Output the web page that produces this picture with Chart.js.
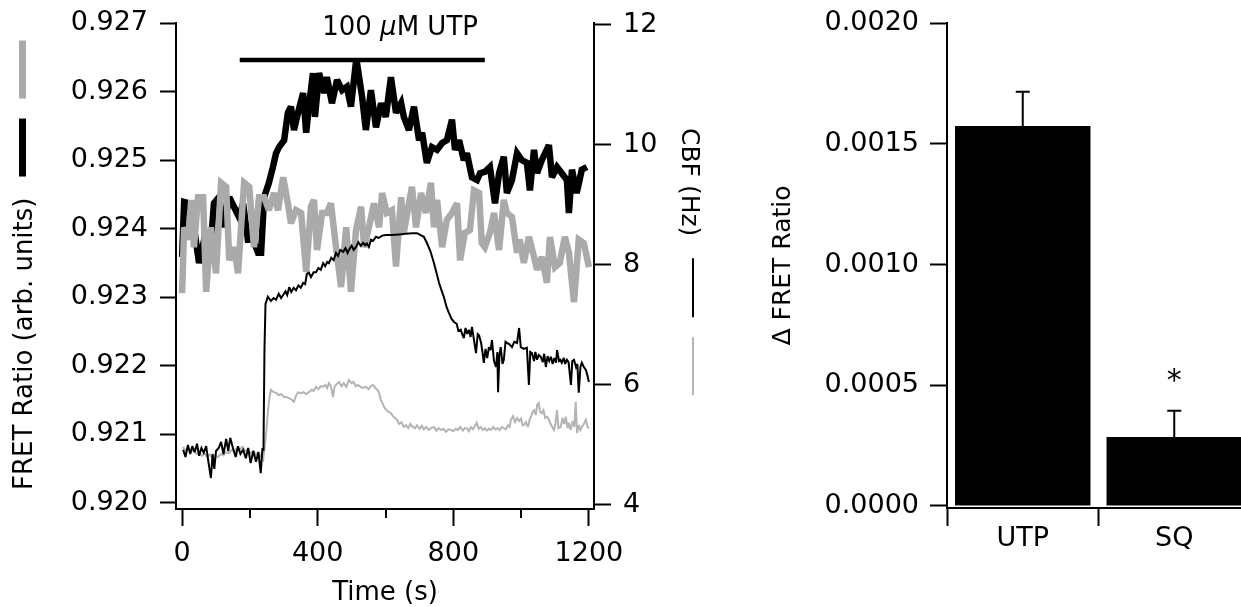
<!DOCTYPE html>
<html>
<head>
<meta charset="utf-8">
<script src="https://cdn.jsdelivr.net/npm/chart.js@4.4.1/dist/chart.umd.min.js"></script>
<style>
  html, body { margin: 0; padding: 0; background: #fff; overflow: hidden; }
  #wrap { position: relative; width: 1241px; height: 607px; overflow: hidden; background: #fff; }
  #trace { position: absolute; left: 0; top: 0; }
  #bars { position: absolute; left: 730px; top: 0; }
</style>
</head>
<body>
<div id="wrap">
  <canvas id="trace" width="720" height="607"></canvas>
  <canvas id="bars" width="530" height="607"></canvas>
</div>
<script>
// FRET ratio, thick traces (time s, ratio)
const fretBlack = [
  [0, 0.92359], [6, 0.92439], [21, 0.92437], [35, 0.92402], [50, 0.92350], [65, 0.92384],
  [85, 0.92379], [94, 0.92437], [109, 0.92446], [124, 0.92402], [139, 0.92446], [153, 0.92432],
  [168, 0.92417], [180, 0.92437], [194, 0.92384], [209, 0.92384], [224, 0.92365], [233, 0.92365],
  [242, 0.92446], [256, 0.92467], [268, 0.92490], [277, 0.92510], [286, 0.92519], [301, 0.92529],
  [312, 0.92569], [321, 0.92578], [330, 0.92544], [342, 0.92569], [357, 0.92598], [366, 0.92540],
  [374, 0.92578], [386, 0.92627], [392, 0.92563], [404, 0.92627], [419, 0.92598], [427, 0.92621],
  [442, 0.92583], [457, 0.92617], [472, 0.92602], [486, 0.92607], [498, 0.92578], [514, 0.92648],
  [531, 0.92592], [542, 0.92544], [557, 0.92602], [572, 0.92548], [587, 0.92583], [601, 0.92563],
  [616, 0.92621], [631, 0.92569], [646, 0.92583], [654, 0.92563], [669, 0.92544], [684, 0.92578],
  [699, 0.92529], [708, 0.92540], [722, 0.92496], [737, 0.92519], [752, 0.92515], [767, 0.92525],
  [781, 0.92529], [796, 0.92559], [805, 0.92515], [817, 0.92529], [831, 0.92500], [840, 0.92510],
  [855, 0.92475], [870, 0.92471], [879, 0.92481], [893, 0.92483], [908, 0.92490], [923, 0.92437],
  [935, 0.92481], [949, 0.92505], [958, 0.92452], [973, 0.92471], [988, 0.92510], [1002, 0.92500],
  [1017, 0.92496], [1026, 0.92456], [1038, 0.92515], [1047, 0.92481], [1061, 0.92500], [1082, 0.92522],
  [1091, 0.92475], [1106, 0.92490], [1120, 0.92481], [1135, 0.92471], [1141, 0.92423], [1150, 0.92486],
  [1164, 0.92452], [1179, 0.92486], [1194, 0.92490]
];
const fretGray = [
  [0, 0.92306], [6, 0.92402], [18, 0.92384], [27, 0.92442], [35, 0.92373], [47, 0.92446],
  [62, 0.92446], [71, 0.92308], [85, 0.92402], [100, 0.92335], [115, 0.92467], [130, 0.92461],
  [139, 0.92354], [153, 0.92373], [165, 0.92335], [174, 0.92402], [183, 0.92467], [198, 0.92461],
  [212, 0.92373], [227, 0.92446], [242, 0.92446], [256, 0.92427], [271, 0.92452], [283, 0.92427],
  [298, 0.92475], [312, 0.92437], [321, 0.92408], [336, 0.92427], [351, 0.92423], [366, 0.92337],
  [380, 0.92432], [389, 0.92442], [398, 0.92369], [413, 0.92423], [427, 0.92423], [439, 0.92437],
  [454, 0.92373], [469, 0.92315], [484, 0.92402], [498, 0.92308], [513, 0.92398], [528, 0.92432],
  [537, 0.92373], [551, 0.92402], [566, 0.92437], [581, 0.92402], [590, 0.92452], [604, 0.92423],
  [619, 0.92427], [631, 0.92345], [646, 0.92446], [654, 0.92394], [669, 0.92437], [678, 0.92461],
  [690, 0.92402], [705, 0.92452], [719, 0.92423], [734, 0.92467], [743, 0.92402], [752, 0.92442],
  [767, 0.92373], [781, 0.92413], [796, 0.92423], [811, 0.92437], [820, 0.92354], [834, 0.92394],
  [849, 0.92398], [861, 0.92456], [876, 0.92452], [884, 0.92379], [893, 0.92373], [908, 0.92394],
  [920, 0.92423], [935, 0.92369], [949, 0.92442], [958, 0.92423], [973, 0.92417], [988, 0.92365],
  [996, 0.92384], [1008, 0.92350], [1023, 0.92388], [1038, 0.92359], [1047, 0.92340], [1061, 0.92359],
  [1076, 0.92321], [1085, 0.92388], [1100, 0.92344], [1114, 0.92350], [1129, 0.92388], [1141, 0.92365],
  [1156, 0.92293], [1170, 0.92384], [1185, 0.92379], [1200, 0.92344]
];

// ciliary beat frequency, thin traces (time s, Hz)
const cbfBlack = [
  [3, 4.92], [10, 4.80], [17, 5.00], [24, 4.85], [30, 4.98], [37, 4.88], [44, 5.02], [50, 4.82],
  [57, 4.95], [64, 4.87], [71, 4.98], [78, 4.70], [85, 4.45], [90, 4.85], [95, 4.60], [100, 4.90],
  [108, 4.95], [115, 5.05], [122, 4.85], [130, 5.10], [136, 4.90], [142, 5.12], [150, 4.95], [158, 4.80],
  [165, 4.98], [172, 4.85], [180, 4.92], [188, 4.78], [195, 4.95], [202, 4.70], [210, 4.90], [218, 4.72],
  [225, 4.88], [232, 4.53], [237, 4.95], [240, 4.90], [243, 6.60], [246, 7.35], [253, 7.47], [262, 7.40],
  [270, 7.45], [277, 7.42], [285, 7.52], [292, 7.45], [298, 7.50], [305, 7.56], [310, 7.50], [316, 7.63],
  [322, 7.55], [329, 7.62], [336, 7.58], [343, 7.66], [350, 7.62], [357, 7.70], [363, 7.68], [368, 7.85],
  [374, 7.87], [380, 7.80], [388, 7.88], [395, 7.88], [402, 7.95], [409, 7.92], [416, 8.03], [422, 7.98],
  [428, 8.05], [433, 8.03], [440, 8.12], [447, 8.08], [454, 8.20], [460, 8.15], [467, 8.25], [475, 8.22],
  [482, 8.28], [488, 8.20], [492, 8.25], [500, 8.32], [506, 8.25], [513, 8.30], [520, 8.38], [527, 8.32],
  [534, 8.37], [540, 8.33], [545, 8.36], [551, 8.30], [557, 8.42], [563, 8.40], [572, 8.47], [580, 8.45],
  [590, 8.49], [601, 8.50], [616, 8.50], [640, 8.51], [660, 8.52], [680, 8.53], [693, 8.53], [713, 8.47],
  [722, 8.37], [733, 8.22], [743, 8.03], [750, 7.88], [758, 7.70], [765, 7.58], [772, 7.47], [780, 7.30],
  [787, 7.20], [795, 7.10], [802, 7.05], [810, 7.02], [815, 6.90], [822, 6.92], [826, 6.85], [831, 6.78],
  [836, 6.95], [841, 6.85], [846, 6.92], [851, 6.80], [855, 6.97], [861, 6.75], [867, 6.53], [872, 6.85],
  [876, 6.83], [882, 6.70], [886, 6.55], [890, 6.37], [895, 6.60], [900, 6.45], [905, 6.63], [910, 6.58],
  [914, 6.75], [920, 6.40], [926, 6.30], [930, 6.55], [932, 5.88], [936, 6.50], [940, 6.63], [945, 6.35],
  [949, 6.42], [954, 6.72], [958, 6.70], [965, 6.68], [973, 6.63], [980, 6.72], [988, 6.70], [994, 6.95],
  [999, 6.63], [1008, 6.60], [1017, 6.62], [1023, 6.00], [1027, 6.55], [1032, 6.53], [1038, 6.40], [1042, 6.55],
  [1047, 6.42], [1052, 6.50], [1058, 6.47], [1064, 6.38], [1068, 6.52], [1073, 6.30], [1078, 6.48], [1083, 6.40],
  [1088, 6.47], [1093, 6.35], [1098, 6.45], [1103, 6.37], [1106, 6.58], [1112, 6.40], [1116, 6.42], [1120, 6.37],
  [1126, 6.45], [1130, 6.35], [1135, 6.42], [1140, 6.38], [1147, 6.00], [1151, 6.40], [1156, 6.42], [1162, 6.30],
  [1166, 6.35], [1170, 5.87], [1175, 6.30], [1179, 6.37], [1185, 6.30], [1191, 6.25], [1196, 6.15], [1200, 6.05]
];
const cbfGray = [
  [3, 4.97], [10, 4.90], [18, 4.95], [26, 4.88], [34, 4.92], [42, 4.85], [50, 4.88], [58, 4.82],
  [66, 4.86], [74, 4.80], [82, 4.84], [90, 4.78], [98, 4.82], [106, 4.80], [114, 4.85], [122, 4.83],
  [130, 4.88], [138, 4.86], [146, 4.92], [154, 4.89], [162, 4.95], [170, 4.92], [178, 4.97], [186, 4.90],
  [194, 4.93], [202, 4.86], [210, 4.90], [218, 4.84], [226, 4.88], [233, 4.80], [239, 4.75], [244, 5.00],
  [248, 5.20], [253, 5.55], [258, 5.80], [262, 5.92], [270, 5.88], [277, 5.87], [285, 5.83], [292, 5.85],
  [300, 5.80], [307, 5.80], [315, 5.78], [322, 5.76], [330, 5.72], [336, 5.82], [342, 5.88], [350, 5.86],
  [358, 5.88], [366, 5.85], [374, 5.88], [382, 5.92], [388, 5.90], [395, 5.97], [402, 5.93], [409, 5.98],
  [416, 5.97], [423, 6.00], [428, 5.95], [433, 6.03], [439, 5.98], [445, 5.80], [450, 5.98], [457, 6.02],
  [463, 6.05], [470, 5.98], [477, 6.03], [484, 5.97], [492, 6.08], [500, 6.03], [506, 6.05], [512, 5.98],
  [519, 6.00], [526, 5.97], [533, 5.95], [542, 5.97], [550, 5.93], [556, 5.98], [563, 6.00], [570, 5.95],
  [576, 5.92], [581, 5.87], [586, 5.75], [591, 5.70], [596, 5.63], [603, 5.58], [610, 5.55], [616, 5.53],
  [622, 5.48], [628, 5.45], [634, 5.42], [640, 5.35], [647, 5.38], [654, 5.30], [660, 5.33], [667, 5.28],
  [673, 5.35], [680, 5.30], [687, 5.28], [693, 5.33], [700, 5.27], [707, 5.32], [713, 5.26], [720, 5.30],
  [727, 5.25], [734, 5.28], [743, 5.30], [750, 5.24], [757, 5.28], [764, 5.25], [771, 5.27], [778, 5.22],
  [786, 5.26], [793, 5.25], [800, 5.23], [807, 5.27], [814, 5.25], [821, 5.30], [828, 5.24], [834, 5.28],
  [840, 5.28], [846, 5.23], [852, 5.30], [858, 5.26], [864, 5.32], [869, 5.37], [875, 5.27], [881, 5.30],
  [887, 5.25], [893, 5.28], [899, 5.24], [905, 5.27], [911, 5.25], [918, 5.30], [924, 5.26], [930, 5.28],
  [937, 5.25], [943, 5.30], [949, 5.28], [955, 5.26], [961, 5.33], [966, 5.30], [970, 5.42], [976, 5.48],
  [982, 5.38], [988, 5.45], [994, 5.40], [1000, 5.44], [1004, 5.33], [1008, 5.33], [1014, 5.38], [1020, 5.30],
  [1025, 5.42], [1029, 5.47], [1034, 5.55], [1038, 5.58], [1043, 5.50], [1048, 5.68], [1052, 5.70], [1056, 5.55],
  [1061, 5.53], [1066, 5.58], [1071, 5.45], [1077, 5.47], [1082, 5.42], [1087, 5.35], [1092, 5.30], [1097, 5.25],
  [1101, 5.35], [1106, 5.58], [1110, 5.28], [1117, 5.30], [1122, 5.45], [1127, 5.35], [1132, 5.47], [1137, 5.28],
  [1141, 5.37], [1146, 5.25], [1152, 5.40], [1157, 5.30], [1161, 5.72], [1165, 5.20], [1170, 5.33], [1175, 5.25],
  [1179, 5.30], [1185, 5.35], [1191, 5.42], [1196, 5.30], [1200, 5.28]
];

// UTP application bar (time s, drawn at a fixed ratio level)
const utpBar = [[170, 0.92646], [893, 0.92646]];

// tick values
const timeTicks = [0, 200, 400, 600, 800, 1000, 1200];
const fretTicks = [0.920, 0.921, 0.922, 0.923, 0.924, 0.925, 0.926, 0.927];
const cbfTicks = [4, 6, 8, 10, 12];

// bar panel
const groups = ["UTP", "SQ"];
const deltaMean = [0.001574, 0.000286];
const deltaErr = [0.000141, 0.000108];
const deltaTicks = [0, 0.0005, 0.0010, 0.0015, 0.0020];

const FONT = "'DejaVu Sans', sans-serif";
const GRAY = "#aaaaaa";
Chart.defaults.font.family = FONT;
Chart.defaults.font.size = 27;
Chart.defaults.color = "#000";

function toPoints(pairs) {
  return pairs.map(([x, y]) => ({ x: x, y: y }));
}

function setTicks(values) {
  return function (scale) {
    scale.ticks = values.map((v) => ({ value: v }));
  };
}

function axisFit(size) {
  return function (scale) {
    if (scale.isHorizontal()) scale.height = size;
    else scale.width = size;
    scale.paddingTop = 0;
    scale.paddingBottom = 0;
    scale.paddingLeft = 0;
    scale.paddingRight = 0;
  };
}

function axisStyle(tickLength) {
  return {
    drawOnChartArea: false,
    drawTicks: true,
    tickLength: tickLength,
    tickWidth: 2,
    tickColor: "#000",
  };
}

const traceDecor = {
  id: "traceDecor",
  beforeDatasetsDraw(chart) {
    // keep the sharp corners of the thick traces from spiking too far
    chart.ctx.miterLimit = 3;
  },
  afterDraw(chart) {
    const ctx = chart.ctx;
    const area = chart.chartArea;
    const xs = chart.scales.x;
    const yl = chart.scales.yL;
    ctx.save();
    ctx.fillStyle = "#000";
    ctx.strokeStyle = "#000";

    // short minor ticks on the time axis
    ctx.lineWidth = 2;
    timeTicks.filter((t) => t % 400 !== 0).forEach((t) => {
      const px = Math.round(xs.getPixelForValue(t));
      ctx.beginPath();
      ctx.moveTo(px, area.bottom);
      ctx.lineTo(px, area.bottom + 9);
      ctx.stroke();
    });

    // "100 uM UTP" above the bar
    const barY = yl.getPixelForValue(utpBar[0][1]);
    const parts = [["100 ", ""], ["\u03bc", "italic "], ["M UTP", ""]];
    let total = 0;
    parts.forEach(([s, st]) => {
      ctx.font = st + "26px " + FONT;
      total += ctx.measureText(s).width;
    });
    let tx = xs.getPixelForValue(643) - total / 2;
    ctx.textBaseline = "alphabetic";
    ctx.textAlign = "left";
    parts.forEach(([s, st]) => {
      ctx.font = st + "26px " + FONT;
      ctx.fillText(s, tx, barY - 25);
      tx += ctx.measureText(s).width;
    });

    // x title
    ctx.font = "26px " + FONT;
    ctx.textAlign = "center";
    ctx.fillText("Time (s)", (area.left + area.right) / 2, area.bottom + 91);

    // left title with legend swatches
    const leftTitle = "FRET Ratio (arb. units)";
    ctx.save();
    ctx.translate(area.left - 144, area.bottom - 19);
    ctx.rotate(-Math.PI / 2);
    ctx.textAlign = "left";
    ctx.fillText(leftTitle, 0, 0);
    const w = ctx.measureText(leftTitle).width;
    ctx.fillStyle = "#000";
    ctx.fillRect(w + 21, -13, 58, 7);
    ctx.fillStyle = GRAY;
    ctx.fillRect(w + 99, -13, 58, 7);
    ctx.restore();

    // right title with legend lines
    ctx.save();
    ctx.translate(area.right + 88, 128);
    ctx.rotate(Math.PI / 2);
    ctx.textAlign = "left";
    ctx.font = "25px " + FONT;
    ctx.fillText("CBF (Hz)", 0, 0);
    const w2 = ctx.measureText("CBF (Hz)").width;
    ctx.lineWidth = 2;
    ctx.strokeStyle = "#000";
    ctx.beginPath();
    ctx.moveTo(w2 + 22, -11);
    ctx.lineTo(w2 + 81, -11);
    ctx.stroke();
    ctx.strokeStyle = "#b4b4b4";
    ctx.beginPath();
    ctx.moveTo(w2 + 101, -11);
    ctx.lineTo(w2 + 159, -11);
    ctx.stroke();
    ctx.restore();

    ctx.restore();
  },
};

new Chart(document.getElementById("trace"), {
  type: "line",
  data: {
    datasets: [
      {
        label: "100 uM UTP",
        data: toPoints(utpBar),
        yAxisID: "yL",
        borderColor: "#000",
        borderWidth: 4.5,
        pointRadius: 0,
      },
      {
        label: "CBF (black)",
        data: toPoints(cbfBlack),
        yAxisID: "yR",
        borderColor: "#000",
        borderWidth: 2,
        pointRadius: 0,
      },
      {
        label: "CBF (gray)",
        data: toPoints(cbfGray),
        yAxisID: "yR",
        borderColor: "#b4b4b4",
        borderWidth: 2,
        pointRadius: 0,
      },
      {
        label: "FRET (gray)",
        data: toPoints(fretGray),
        yAxisID: "yL",
        borderColor: GRAY,
        borderWidth: 6.5,
        pointRadius: 0,
      },
      {
        label: "FRET (black)",
        data: toPoints(fretBlack),
        yAxisID: "yL",
        borderColor: "#000",
        borderWidth: 6.5,
        pointRadius: 0,
      },
    ],
  },
  options: {
    responsive: false,
    animation: false,
    devicePixelRatio: 1,
    layout: { padding: { top: 23, left: 0, right: 0, bottom: 0 } },
    elements: { line: { tension: 0, borderJoinStyle: "miter" } },
    scales: {
      x: {
        type: "linear",
        position: "bottom",
        min: -18,
        max: 1215,
        afterBuildTicks: setTicks(timeTicks),
        afterFit: axisFit(98),
        border: { display: true, color: "#000", width: 2 },
        grid: Object.assign(axisStyle(17), {
          tickColor: (c) => (c.tick && c.tick.value % 400 === 0 ? "#000" : "rgba(0,0,0,0)"),
        }),
        ticks: {
          autoSkip: false,
          maxRotation: 0,
          padding: 12,
          callback: (v) => (v % 400 === 0 ? String(v) : ""),
        },
      },
      yL: {
        type: "linear",
        position: "left",
        min: 0.919912,
        max: 0.927,
        afterBuildTicks: setTicks(fretTicks),
        afterFit: axisFit(176),
        border: { display: true, color: "#000", width: 2 },
        grid: axisStyle(16),
        ticks: { padding: 12, callback: (v) => v.toFixed(3) },
      },
      yR: {
        type: "linear",
        position: "right",
        min: 3.933,
        max: 12.033,
        afterBuildTicks: setTicks(cbfTicks),
        afterFit: axisFit(126),
        border: { display: true, color: "#000", width: 2 },
        grid: axisStyle(17),
        ticks: { padding: 12, callback: (v) => String(v) },
      },
    },
    plugins: { legend: { display: false }, tooltip: { enabled: false } },
  },
  plugins: [traceDecor],
});

const barDecor = {
  id: "barDecor",
  afterDatasetsDraw(chart) {
    const ctx = chart.ctx;
    const area = chart.chartArea;
    const ys = chart.scales.y;
    const bars = chart.getDatasetMeta(0).data;
    ctx.save();
    ctx.strokeStyle = "#000";
    ctx.fillStyle = "#000";
    ctx.lineWidth = 2;
    bars.forEach((bar, i) => {
      const top = ys.getPixelForValue(deltaMean[i] + deltaErr[i]);
      ctx.beginPath();
      ctx.moveTo(bar.x, bar.y);
      ctx.lineTo(bar.x, top);
      ctx.moveTo(bar.x - 7, top);
      ctx.lineTo(bar.x + 7, top);
      ctx.stroke();
    });
    // significance mark on SQ
    const sq = bars[1];
    const sqTop = ys.getPixelForValue(deltaMean[1] + deltaErr[1]);
    ctx.font = "30px " + FONT;
    ctx.textAlign = "center";
    ctx.textBaseline = "alphabetic";
    ctx.fillText("*", sq.x, sqTop - 21);

    // y title
    ctx.save();
    ctx.translate(area.left - 157, (area.top + area.bottom) / 2);
    ctx.rotate(-Math.PI / 2);
    ctx.font = "25px " + FONT;
    ctx.textAlign = "center";
    ctx.fillText("\u0394 FRET Ratio", 0, 0);
    ctx.restore();
    ctx.restore();
  },
};

new Chart(document.getElementById("bars"), {
  type: "bar",
  data: {
    labels: groups,
    datasets: [
      {
        label: "\u0394 FRET Ratio",
        data: deltaMean,
        backgroundColor: "#000",
        borderWidth: 0,
        categoryPercentage: 1,
        barPercentage: 0.894,
      },
    ],
  },
  options: {
    responsive: false,
    animation: false,
    devicePixelRatio: 1,
    layout: { padding: { top: 23, left: 0, right: 10, bottom: 0 } },
    scales: {
      x: {
        type: "category",
        offset: true,
        afterFit: axisFit(99),
        border: { display: true, color: "#000", width: 2 },
        grid: Object.assign(axisStyle(18), { offset: true }),
        ticks: { padding: -3, maxRotation: 0, autoSkip: false },
      },
      y: {
        type: "linear",
        min: -0.0000083,
        max: 0.002,
        afterBuildTicks: setTicks(deltaTicks),
        afterFit: axisFit(217),
        border: { display: true, color: "#000", width: 2 },
        grid: axisStyle(17),
        ticks: { padding: 11, callback: (v) => v.toFixed(4) },
      },
    },
    plugins: { legend: { display: false }, tooltip: { enabled: false } },
  },
  plugins: [barDecor],
});
</script>
</body>
</html>
